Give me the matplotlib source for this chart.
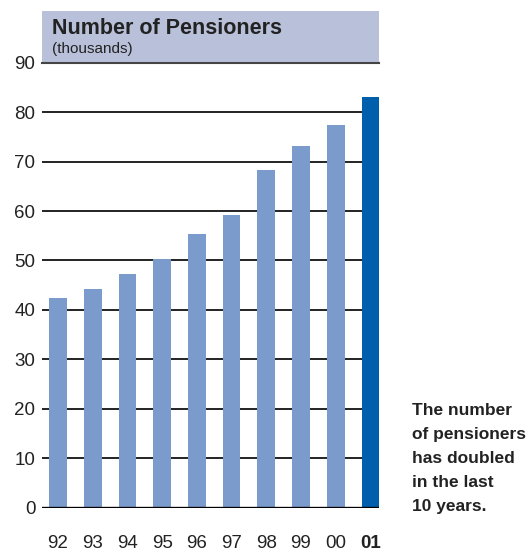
import matplotlib
matplotlib.use("Agg")
import matplotlib.pyplot as plt
from matplotlib.patches import Rectangle

plt.rcParams['font.family'] = ['Liberation Sans', 'DejaVu Sans']

years = ["92", "93", "94", "95", "96", "97", "98", "99", "00", "01"]
pensioners = [42.4, 44.2, 47.3, 50.2, 55.4, 59.2, 68.3, 73.2, 77.3, 83.1]
yticks = [0, 10, 20, 30, 40, 50, 60, 70, 80, 90]

title = "Number of Pensioners"
subtitle = "(thousands)"
note_lines = ["The number", "of pensioners", "has doubled", "in the last", "10 years."]

light_blue = "#7b9bcc"
dark_blue = "#005fac"
header_col = "#b8c0da"
text_col = "#222222"

W, H = 527, 552
fig = plt.figure(figsize=(W / 100, H / 100), dpi=100)
ax = fig.add_axes([42.3 / W, 44.3 / H, 337.0 / W, 445.0 / H])

x = list(range(len(years)))
colors = [light_blue] * (len(years) - 1) + [dark_blue]
ax.bar(x, pensioners, width=0.51, color=colors, zorder=3)

ax.set_xlim(-0.45, 9.255)
ax.set_ylim(0, 90)

for v in yticks[1:-1]:
    ax.axhline(v, color="#111111", lw=1.3, zorder=1)
ax.axhline(0, color="black", lw=2.4, zorder=4)

for s in ax.spines.values():
    s.set_visible(False)

ax.set_yticks(yticks)
ax.set_yticklabels([str(v) for v in yticks], fontsize=13.5, color=text_col)
ax.tick_params(axis="y", length=0, pad=5)
ax.set_xticks(x)
ax.set_xticklabels(years, fontsize=13.5, color=text_col)
ax.get_xticklabels()[-1].set_fontweight("bold")
ax.tick_params(axis="x", length=0, pad=20)

# header band above the plot
hdr = Rectangle((42.3 / W, (H - 62.7) / H), 337.0 / W, 51.5 / H,
                transform=fig.transFigure, facecolor=header_col,
                edgecolor="none", zorder=0)
fig.patches.append(hdr)
fig.add_artist(plt.Line2D([42.3 / W, 379.3 / W], [(H - 62.7) / H] * 2,
                          transform=fig.transFigure, color="#444444", lw=1.5))

fig.text(52 / W, (H - 34) / H, title, fontsize=15.5, fontweight="bold",
         color=text_col, va="baseline", ha="left")
fig.text(52 / W, (H - 53) / H, subtitle, fontsize=11,
         color=text_col, va="baseline", ha="left")

# side note, one line per baseline
baselines = [415, 439, 463, 487, 511]
for line, yb in zip(note_lines, baselines):
    fig.text(412 / W, (H - yb) / H, line, fontsize=12.5, fontweight="bold",
             color=text_col, va="baseline", ha="left")

fig.savefig("out.png", dpi=100)
